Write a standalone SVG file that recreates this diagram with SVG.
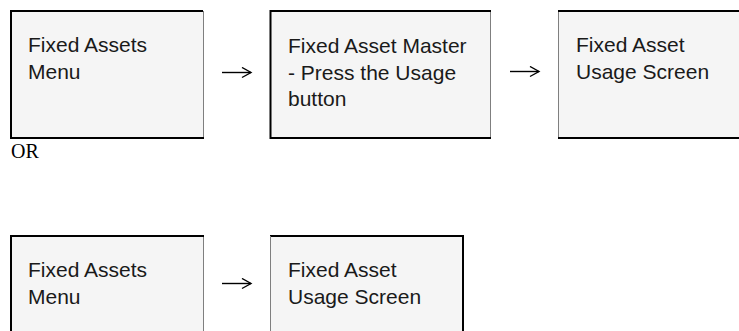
<svg xmlns="http://www.w3.org/2000/svg" width="739" height="331" viewBox="0 0 739 331">
<defs>
<style>
.box{fill:#f5f5f5;stroke:none}
.thick{stroke:#000;stroke-width:2;fill:none}
.thin{stroke:#7f7f7f;stroke-width:1;fill:none}
.lbl{font-family:"Liberation Sans",Arial,sans-serif;font-size:21px;fill:#1a1a1a}
.or{font-family:"Liberation Serif","Times New Roman",serif;font-size:20px;fill:#000}
.conn{stroke:#000;stroke-width:1.4;fill:none}
</style>
<marker id="arr" markerWidth="12" markerHeight="12" refX="10" refY="6" orient="auto" markerUnits="userSpaceOnUse">
<path d="M1,1 L10,6 L1,11" fill="none" stroke="#000" stroke-width="1.4"/>
</marker>
</defs>
<rect width="739" height="331" fill="#fff"/>
<g id="n1">
<rect class="box" x="11" y="11" width="192" height="127"/>
<path class="thin" d="M203.5,11 V138"/>
<path class="thick" d="M11,11 H203 M11,10 V139 M10,138 H204"/>
<text class="lbl" x="28" y="52">Fixed Assets</text>
<text class="lbl" x="28" y="79">Menu</text>
</g>
<g id="n2">
<rect class="box" x="270" y="11" width="220" height="127"/>
<path class="thin" d="M490.5,11 V138"/>
<path class="thick" d="M270,11 H491 M270.5,10 V139 M270,138 H491"/>
<text class="lbl" x="288" y="53">Fixed Asset Master</text>
<text class="lbl" x="288" y="80">- Press the Usage</text>
<text class="lbl" x="288" y="106">button</text>
</g>
<g id="n3">
<rect class="box" x="558" y="11" width="181" height="127"/>
<path class="thin" d="M558.5,11 V138"/>
<path class="thick" d="M558,11 H739 M558,138 H739"/>
<text class="lbl" x="576" y="52">Fixed Asset</text>
<text class="lbl" x="576" y="79">Usage Screen</text>
</g>
<g id="or">
<text class="or" x="11" y="158">OR</text>
</g>
<g id="n4">
<rect class="box" x="11" y="236" width="192" height="95"/>
<path class="thin" d="M203.5,236 V331"/>
<path class="thick" d="M10,236 H204 M11,235 V331"/>
<text class="lbl" x="28" y="277">Fixed Assets</text>
<text class="lbl" x="28" y="304">Menu</text>
</g>
<g id="n5">
<rect class="box" x="271" y="236" width="192" height="95"/>
<path class="thick" d="M270,236 H464 M463,235 V331"/>
<path class="thin" d="M270.5,236 V331"/>
<text class="lbl" x="288" y="277">Fixed Asset</text>
<text class="lbl" x="288" y="304">Usage Screen</text>
</g>
<g id="connectors">
<path class="conn" d="M222,72.5 H251" marker-end="url(#arr)"/>
<path class="conn" d="M510,71.5 H539" marker-end="url(#arr)"/>
<path class="conn" d="M222,283.5 H251" marker-end="url(#arr)"/>
</g>
</svg>
